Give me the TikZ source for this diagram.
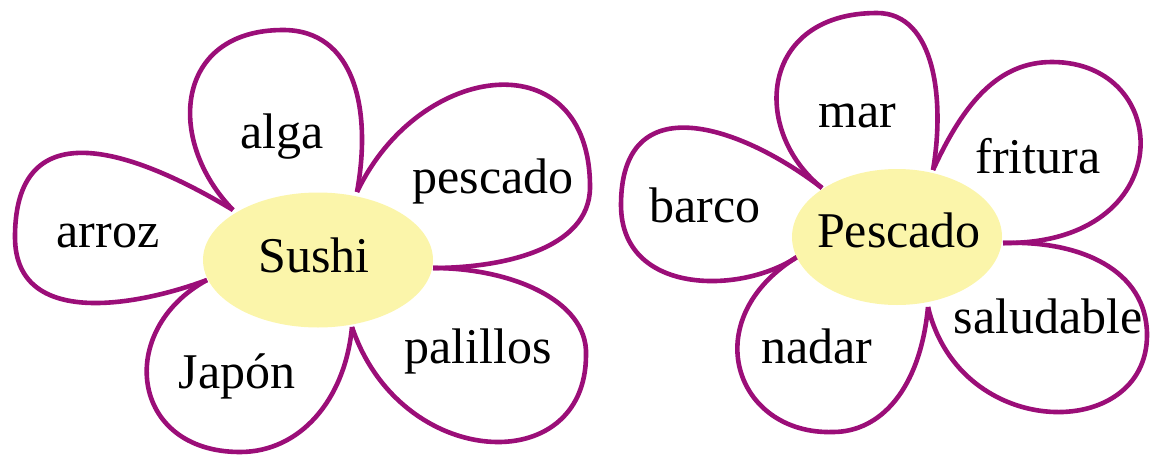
\documentclass[tikz,border=0pt]{standalone}
\usepackage{fontspec}
\setmainfont{Liberation Serif}
\usetikzlibrary{shapes.geometric}
\definecolor{petalc}{RGB}{155,14,120}
\definecolor{heartc}{RGB}{251,245,170}
\begin{document}
\begin{tikzpicture}[x=1pt,y=-1pt,
  petal/.style={draw=petalc,line width=4.6pt,line join=round},
  heart/.style={ellipse,fill=heartc,inner sep=0pt},
  word/.style={anchor=base,font=\fontsize{50}{60}\selectfont}]
 \useasboundingbox (0,0) rectangle (1150,455);
 % Sushi
 \draw[petal] (233,210) .. controls (150,160) and (15,100) .. (15,237) .. controls (15,330) and (140,305) .. (207,280);
 \draw[petal] (233,210) .. controls (165,140) and (175,30) .. (283,30) .. controls (355,30) and (372,110) .. (357,192);
 \draw[petal] (357,192) .. controls (420,60) and (590,40) .. (590,187) .. controls (590,250) and (500,268) .. (433,268);
 \draw[petal] (433,268) .. controls (510,268) and (588,300) .. (586,355) .. controls (586,480) and (400,470) .. (352,327);
 \draw[petal] (352,327) .. controls (345,400) and (300,452) .. (240,452) .. controls (130,452) and (115,330) .. (207,280);
 \node[heart,minimum width=230pt,minimum height=135pt] (sushi) at (318,260) {};
 \node[word] (sushitxt) at (314,272) {Sushi};
 \node[word] (alga) at (282,148) {alga};
 \node[word] (pescado) at (493,193) {pescado};
 \node[word] (arroz) at (108,247) {arroz};
 \node[word] (palillos) at (478,363) {palillos};
 \node[word] (japon) at (237,388) {Japón};
 % Pescado
 \draw[petal] (822,188) .. controls (740,125) and (621,85) .. (621,205) .. controls (621,295) and (740,295) .. (797,257);
 \draw[petal] (822,188) .. controls (750,130) and (760,13) .. (877,13) .. controls (935,13) and (945,100) .. (933,170);
 \draw[petal] (933,170) .. controls (965,100) and (1000,62) .. (1052,62) .. controls (1175,62) and (1180,245) .. (1003,243);
 \draw[petal] (1003,243) .. controls (1080,240) and (1147,270) .. (1147,335) .. controls (1147,442) and (960,442) .. (928,307);
 \draw[petal] (928,307) .. controls (920,390) and (880,432) .. (833,432) .. controls (735,435) and (695,320) .. (797,257);
 \node[heart,minimum width=210pt,minimum height=136pt] (fish) at (897,237) {};
 \node[word] (fishtxt) at (899,247) {Pescado};
 \node[word] (mar) at (857,127) {mar};
 \node[word] (fritura) at (1038,173) {fritura};
 \node[word] (barco) at (705,222) {barco};
 \node[word] (saludable) at (1048,333) {saludable};
 \node[word] (nadar) at (817,363) {nadar};
\end{tikzpicture}
\end{document}
